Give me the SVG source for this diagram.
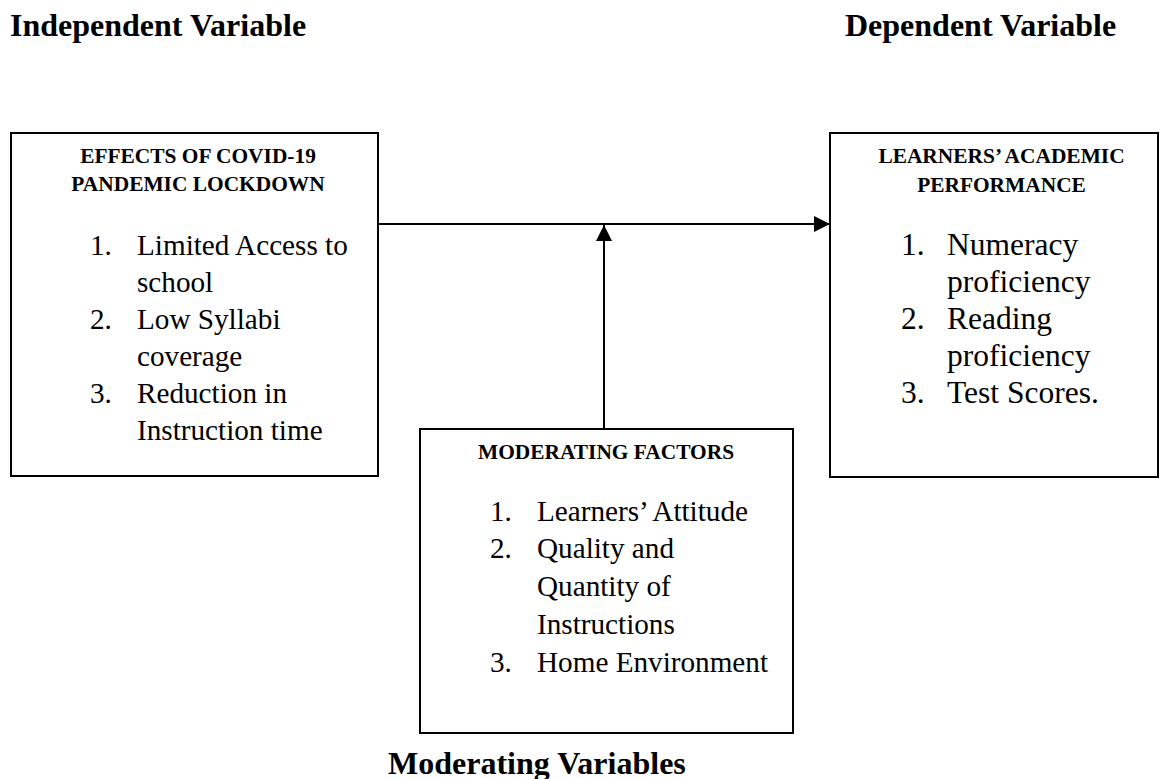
<svg xmlns="http://www.w3.org/2000/svg" width="1160" height="779" viewBox="0 0 1160 779">
<style>
.title{font-family:"Liberation Serif","Times New Roman",serif;font-weight:bold;font-size:32px;fill:#000}
.head{font-family:"Liberation Serif","Times New Roman",serif;font-weight:bold;font-size:21.4px;fill:#000;text-anchor:middle}
.item{font-family:"Liberation Serif","Times New Roman",serif;font-size:29.2px;fill:#000}
.item-lg{font-family:"Liberation Serif","Times New Roman",serif;font-size:31.5px;fill:#000}
.box{fill:#fff;stroke:#000;stroke-width:2}
.conn{fill:none;stroke:#000;stroke-width:2}
</style>
<defs>
<marker id="arrow" markerUnits="userSpaceOnUse" markerWidth="16" markerHeight="16" viewBox="0 0 16 16" refX="16" refY="8" orient="auto">
<path d="M0,0 L16,8 L0,16 Z" fill="#000"/>
</marker>
</defs>
<rect width="1160" height="779" fill="#fff"/>
<g id="labels">
<text class="title" x="10" y="36">Independent Variable</text>
<text class="title" x="845" y="36">Dependent Variable</text>
<text class="title" x="388" y="774">Moderating Variables</text>
</g>
<g id="connectors">
<line class="conn" x1="378" y1="224" x2="830" y2="224" marker-end="url(#arrow)"/>
<line class="conn" x1="604" y1="429" x2="604" y2="225" marker-end="url(#arrow)"/>
</g>
<g id="node-independent">
<rect class="box" x="11" y="133" width="367" height="343"/>
<text class="head" x="198" y="163">EFFECTS OF COVID-19</text>
<text class="head" x="198" y="191">PANDEMIC LOCKDOWN</text>
<text class="item" x="90" y="255">1.</text><text class="item" x="137" y="255">Limited Access to</text>
<text class="item" x="137" y="292">school</text>
<text class="item" x="90" y="329">2.</text><text class="item" x="137" y="329">Low Syllabi</text>
<text class="item" x="137" y="366">coverage</text>
<text class="item" x="90" y="403">3.</text><text class="item" x="137" y="403">Reduction in</text>
<text class="item" x="137" y="440">Instruction time</text>
</g>
<g id="node-dependent">
<rect class="box" x="830" y="133" width="328" height="344"/>
<text class="head" x="1001.5" y="163">LEARNERS’ ACADEMIC</text>
<text class="head" x="1001.5" y="192">PERFORMANCE</text>
<text class="item-lg" x="901" y="255">1.</text><text class="item-lg" x="947" y="255">Numeracy</text>
<text class="item-lg" x="947" y="292">proficiency</text>
<text class="item-lg" x="901" y="329">2.</text><text class="item-lg" x="947" y="329">Reading</text>
<text class="item-lg" x="947" y="366">proficiency</text>
<text class="item-lg" x="901" y="403">3.</text><text class="item-lg" x="947" y="403">Test Scores.</text>
</g>
<g id="node-moderating">
<rect class="box" x="420" y="429" width="373" height="304"/>
<text class="head" x="606" y="459">MODERATING FACTORS</text>
<text class="item" x="490" y="521">1.</text><text class="item" x="537" y="521">Learners’ Attitude</text>
<text class="item" x="490" y="558">2.</text><text class="item" x="537" y="558">Quality and</text>
<text class="item" x="537" y="596">Quantity of</text>
<text class="item" x="537" y="634">Instructions</text>
<text class="item" x="490" y="672">3.</text><text class="item" x="537" y="672">Home Environment</text>
</g>
</svg>
